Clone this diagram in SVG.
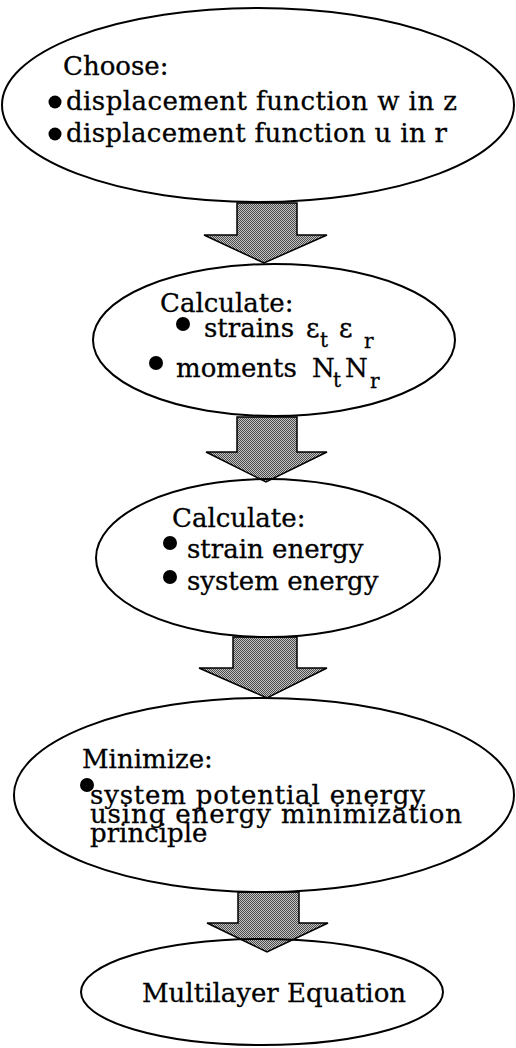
<svg xmlns="http://www.w3.org/2000/svg" width="516" height="1048" viewBox="0 0 516 1048">
<style>
.el{fill:none;stroke:#000;stroke-width:2}
.t{font-family:"DejaVu Serif","Liberation Serif",serif;font-size:26px;fill:#000;stroke:#000;stroke-width:0.3}
.s{font-size:20px}
.arr{fill:url(#dots);stroke:#000;stroke-width:1.5;stroke-linejoin:miter}
.b{fill:#000}
</style>
<defs>
<pattern id="dots" patternUnits="userSpaceOnUse" width="2" height="2">
<rect width="2" height="2" fill="#c4c4c4"/>
<rect width="1" height="1" fill="#4a4a4a"/>
<rect x="1" y="1" width="1" height="1" fill="#4a4a4a"/>
</pattern>
</defs>
<rect width="516" height="1048" fill="#fff"/>
<g id="connectors">
<path class="arr" d="M237,203 L297,203 L297,235 L327,235 L264,263 L204,235 L237,235 Z"/>
<path class="arr" d="M237,417 L297,417 L297,452 L327,452 L266,482 L206,452 L237,452 Z"/>
<path class="arr" d="M233,637 L297,637 L297,668 L327,668 L267,698 L199,668 L233,668 Z"/>
<path class="arr" d="M238,892 L299,892 L299,923 L328,923 L267,952 L207,923 L238,923 Z"/>
</g>
<g id="node-choose">
<ellipse class="el" cx="258" cy="105" rx="256" ry="97"/>
<text class="t" x="63" y="75">Choose:</text>
<circle class="b" cx="55" cy="102" r="6.5"/>
<text class="t" x="66" y="110" textLength="391">displacement function w in z</text>
<circle class="b" cx="55" cy="134" r="6.5"/>
<text class="t" x="66" y="142" textLength="381">displacement function u in r</text>
</g>
<g id="node-calc1">
<ellipse class="el" cx="274" cy="340" rx="181" ry="76"/>
<text class="t" x="160" y="312">Calculate:</text>
<circle class="b" cx="183" cy="324" r="7"/>
<text class="t" x="204" y="337">strains</text>
<text class="t" x="306" y="337">ε</text>
<text class="t s" x="320" y="347">t</text>
<text class="t" x="339" y="337">ε</text>
<text class="t s" x="364" y="348">r</text>
<circle class="b" cx="156" cy="363" r="7"/>
<text class="t" x="176" y="377">moments</text>
<text class="t" x="312" y="377">N</text>
<text class="t s" x="333" y="387">t</text>
<text class="t" x="345" y="377">N</text>
<text class="t s" x="370" y="388">r</text>
</g>
<g id="node-calc2">
<ellipse class="el" cx="268" cy="558" rx="172" ry="79"/>
<text class="t" x="172" y="527">Calculate:</text>
<circle class="b" cx="170" cy="543" r="7"/>
<text class="t" x="187" y="558">strain energy</text>
<circle class="b" cx="170" cy="577" r="7"/>
<text class="t" x="187" y="590">system energy</text>
</g>
<g id="node-minimize">
<ellipse class="el" cx="264" cy="795" rx="250" ry="97"/>
<text class="t" x="82" y="768">Minimize:</text>
<circle class="b" cx="87" cy="785" r="7"/>
<text class="t" x="90" y="804" textLength="335">system potential energy</text>
<text class="t" x="90" y="823" textLength="372">using energy minimization</text>
<text class="t" x="90" y="842">principle</text>
</g>
<g id="node-result">
<ellipse class="el" cx="262" cy="992" rx="181" ry="53"/>
<text class="t" x="142" y="1002">Multilayer Equation</text>
</g>
</svg>
